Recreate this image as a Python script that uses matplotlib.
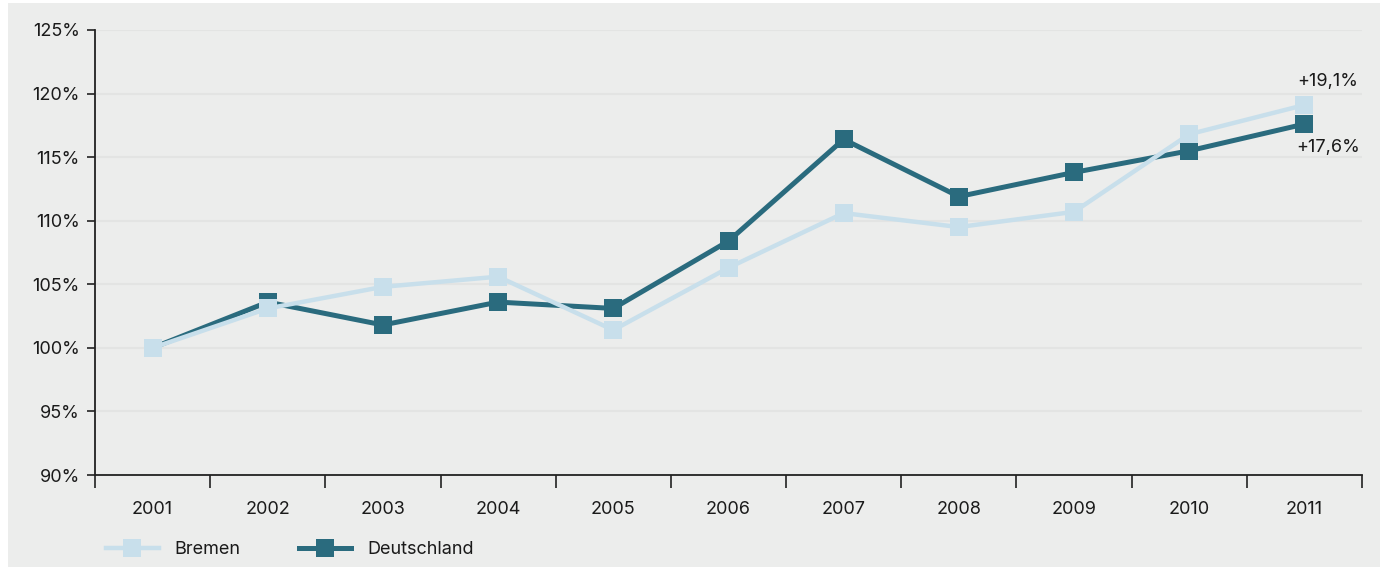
import matplotlib
matplotlib.use("Agg")
import matplotlib.pyplot as plt
from matplotlib.patches import Rectangle

years = ["2001", "2002", "2003", "2004", "2005", "2006", "2007", "2008", "2009", "2010", "2011"]
bremen = [100.0, 103.1, 104.8, 105.6, 101.4, 106.3, 110.6, 109.5, 110.7, 116.8, 119.1]
deutschland = [100.0, 103.6, 101.8, 103.6, 103.1, 108.4, 116.4, 111.9, 113.8, 115.5, 117.6]
end_labels = ["+19,1%", "+17,6%"]

BG = "#ecedec"
GRID = "#e3e4e3"
C_BREMEN = "#c8dfeb"
C_DE = "#2a6b7e"
TXT = "#1a1a1a"

plt.rcParams["font.family"] = ["Inter", "DejaVu Sans"]

fig = plt.figure(figsize=(13.87, 5.73), dpi=100, facecolor="white")
fig.patches.append(Rectangle((8 / 1387, 6 / 573), 1372 / 1387, 564 / 573,
                             transform=fig.transFigure, facecolor=BG, edgecolor="none", zorder=-1))
ax = fig.add_axes([95 / 1387, 98 / 573, 1267 / 1387, 445 / 573])
ax.set_facecolor(BG)

x = list(range(len(years)))
ax.plot(x, deutschland, color=C_DE, lw=3.6, marker="s", ms=12.5, mew=0, label="Deutschland", zorder=3)
ax.plot(x, bremen, color=C_BREMEN, lw=3.2, marker="s", ms=12.5, mew=0, label="Bremen", zorder=4)

ax.annotate(end_labels[0], (x[-1], bremen[-1]), xytext=(17, 17), textcoords="offset points",
            ha="center", va="center", fontsize=13, color=TXT)
ax.annotate(end_labels[1], (x[-1], deutschland[-1]), xytext=(17, -17), textcoords="offset points",
            ha="center", va="center", fontsize=13, color=TXT)

ax.set_xlim(-0.5, len(years) - 0.5)
ax.set_ylim(90, 125)
ax.set_yticks(range(90, 126, 5))
ax.set_yticklabels([f"{v}%" for v in range(90, 126, 5)], fontsize=13, color=TXT)
ax.yaxis.grid(True, color=GRID, lw=1.5)
ax.set_axisbelow(True)

# boundary ticks between categories, labels centred on the categories
ax.set_xticks([i - 0.5 for i in range(len(years) + 1)])
ax.set_xticklabels([])
ax.set_xticks(x, minor=True)
ax.set_xticklabels(years, minor=True, fontsize=13, color=TXT)
ax.tick_params(axis="x", which="major", length=9, width=1.2, color="#222222")
ax.tick_params(axis="x", which="minor", length=0, pad=19)
ax.tick_params(axis="y", length=6, width=1.2, color="#222222", pad=5)

for s in ("top", "right"):
    ax.spines[s].set_visible(False)
for s in ("left", "bottom"):
    ax.spines[s].set_color("#222222")
    ax.spines[s].set_linewidth(1.3)

h, l = ax.get_legend_handles_labels()
leg = fig.legend(h[::-1], l[::-1], loc="center left", bbox_to_anchor=(90 / 1387, 1 - 550 / 573),
                 ncol=2, frameon=False, fontsize=13, handlelength=2.9, columnspacing=3.2,
                 handletextpad=0.9)
for t in leg.get_texts():
    t.set_color(TXT)

fig.savefig("out.png", dpi=100, facecolor="white")
